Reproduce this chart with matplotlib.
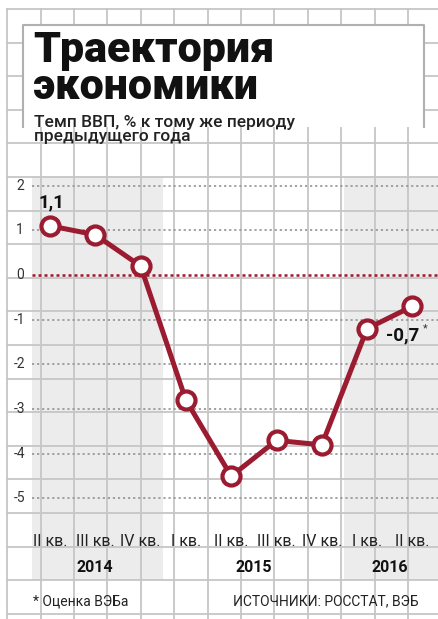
import matplotlib
matplotlib.use("Agg")
import matplotlib.pyplot as plt
from matplotlib.patches import Rectangle
import numpy as np

# ---- data ----
quarters = ["II кв.", "III кв.", "IV кв.", "I кв.", "II кв.", "III кв.", "IV кв.", "I кв.", "II кв."]
quarter_years = ["2014", "2014", "2014", "2015", "2015", "2015", "2015", "2016", "2016"]
years = ["2014", "2015", "2016"]
gdp = [1.1, 0.9, 0.2, -2.8, -4.5, -3.7, -3.8, -1.2, -0.7]
yticks = [2, 1, 0, -1, -2, -3, -4, -5]
title = "Траектория\nэкономики"
subtitle = "Темп ВВП, % к тому же периоду\nпредыдущего года"
note = "* Оценка ВЭБа"
source = "ИСТОЧНИКИ: РОССТАТ, ВЭБ"

W, H = 439, 619
RED = "#9b1b30"
GRID = "#c6c6c6"
SHADE = "#ececec"
FONT = ["Roboto", "DejaVu Sans"]

fig = plt.figure(figsize=(W / 100, H / 100), dpi=100)
ax = fig.add_axes([0, 0, 1, 1])

# layout mapping: x index 0 at px 50, step 45.3 ; y 0 at px 275, 44.7 px/unit
x0, dx = 50.0, 45.3
y0, dy = 275.0, 44.7
ax.set_xlim((0 - x0) / dx, (W - x0) / dx)
ax.set_ylim((y0 - H) / dy, (y0 - 0) / dy)
ax.axis("off")

def fx(px):
    return px / W

def fy(py):
    return 1 - py / H

T = ax.transAxes

# ---- shaded year bands ----
band_top, band_bot = fy(177), fy(580)
x_idx = np.arange(len(gdp))
ax.axvspan(-0.4, 2.5, ymin=band_bot, ymax=band_top, color=SHADE, lw=0, zorder=0.5)
ax.axvspan(6.5, 9.0, ymin=band_bot, ymax=band_top, color=SHADE, lw=0, zorder=0.5)

# ---- graph-paper background ----
for k in range(13):
    xv = 7.3 + 33.4 * k
    ax.plot([fx(xv), fx(xv)], [fy(9), fy(H)], transform=T, color=GRID, lw=1.3, zorder=1)
for k in range(19):
    yv = 9 + 33.6 * k
    ax.plot([fx(7.3), fx(W)], [fy(yv), fy(yv)], transform=T, color=GRID, lw=1.3, zorder=1)

# ---- title box ----
ax.add_patch(Rectangle((fx(22.7), fy(127)), fx(424.3) - fx(22.7), fy(25) - fy(127),
                       transform=T, facecolor="white", edgecolor="none", zorder=2))
ax.plot([fx(22.7), fx(22.7), fx(424.3), fx(424.3)], [fy(127), fy(25), fy(25), fy(127)],
        transform=T, color="#b0b0b0", lw=1.5, zorder=2.1)
ax.text(fx(33), fy(30), title, transform=T, ha="left", va="top", fontsize=31,
        fontweight="black", family=FONT, linespacing=0.88, color="#111111", zorder=3)
ax.text(fx(34), fy(115), subtitle, transform=T, ha="left", va="top", fontsize=12.5,
        fontweight="medium", family=FONT, linespacing=0.92, color="#222222", zorder=3)

# ---- horizontal dotted gridlines ----
for v in yticks:
    if v == 0:
        ax.hlines(v, -0.4, 9, colors=RED, linestyles=(0, (1.2, 1.2)), lw=1.8, zorder=3)
    else:
        ax.hlines(v, -0.4, 9, colors="#9a9a9a", linestyles=(0, (1.2, 1.6)), lw=1.3, zorder=3)
    ax.text(fx(20), v, str(v), transform=ax.get_yaxis_transform(), ha="center", va="center",
            fontsize=10, family=FONT, color="#333333", zorder=3)

# ---- data line ----
ax.plot(x_idx, gdp, color=RED, lw=3.6, zorder=4, solid_capstyle="round")
ax.plot(x_idx, gdp, ls="none", marker="o", ms=13, mfc="white", mec=RED, mew=3, zorder=5)

ax.annotate("1,1", (0, gdp[0]), xytext=(1, 23), textcoords="offset pixels", ha="center",
            va="center", fontsize=13.5, fontweight="bold", family=FONT, color="#111111", zorder=6)
ax.annotate("-0,7", (8, gdp[8]), xytext=(-10, -29), textcoords="offset pixels", ha="center",
            va="center", fontsize=13.5, fontweight="bold", family=FONT, color="#111111", zorder=6)
ax.annotate("*", (8, gdp[8]), xytext=(13, -22), textcoords="offset pixels", ha="center",
            va="center", fontsize=8, family=FONT, color="#333333", zorder=6)

# ---- category labels ----
lab_y = (y0 - 541) / dy
yr_y = (y0 - 568) / dy
for i, q in enumerate(quarters):
    ax.text(i, lab_y, q, ha="center", va="center", fontsize=11.5, family=FONT,
            color="#222222", zorder=3)
for yr in years:
    pos = np.mean([i for i, qy in enumerate(quarter_years) if qy == yr])
    ax.text(pos, yr_y, yr, ha="center", va="center", fontsize=11.5, fontweight="bold",
            family=FONT, color="#111111", zorder=3)

# ---- footer ----
ax.text(fx(33), fy(601), note, transform=T, ha="left", va="center", fontsize=10,
        family=FONT, color="#222222", zorder=3)
ax.text(fx(326), fy(601), source, transform=T, ha="center", va="center", fontsize=10,
        family=FONT, color="#222222", zorder=3)

fig.savefig("out.png", dpi=100, facecolor="white")
